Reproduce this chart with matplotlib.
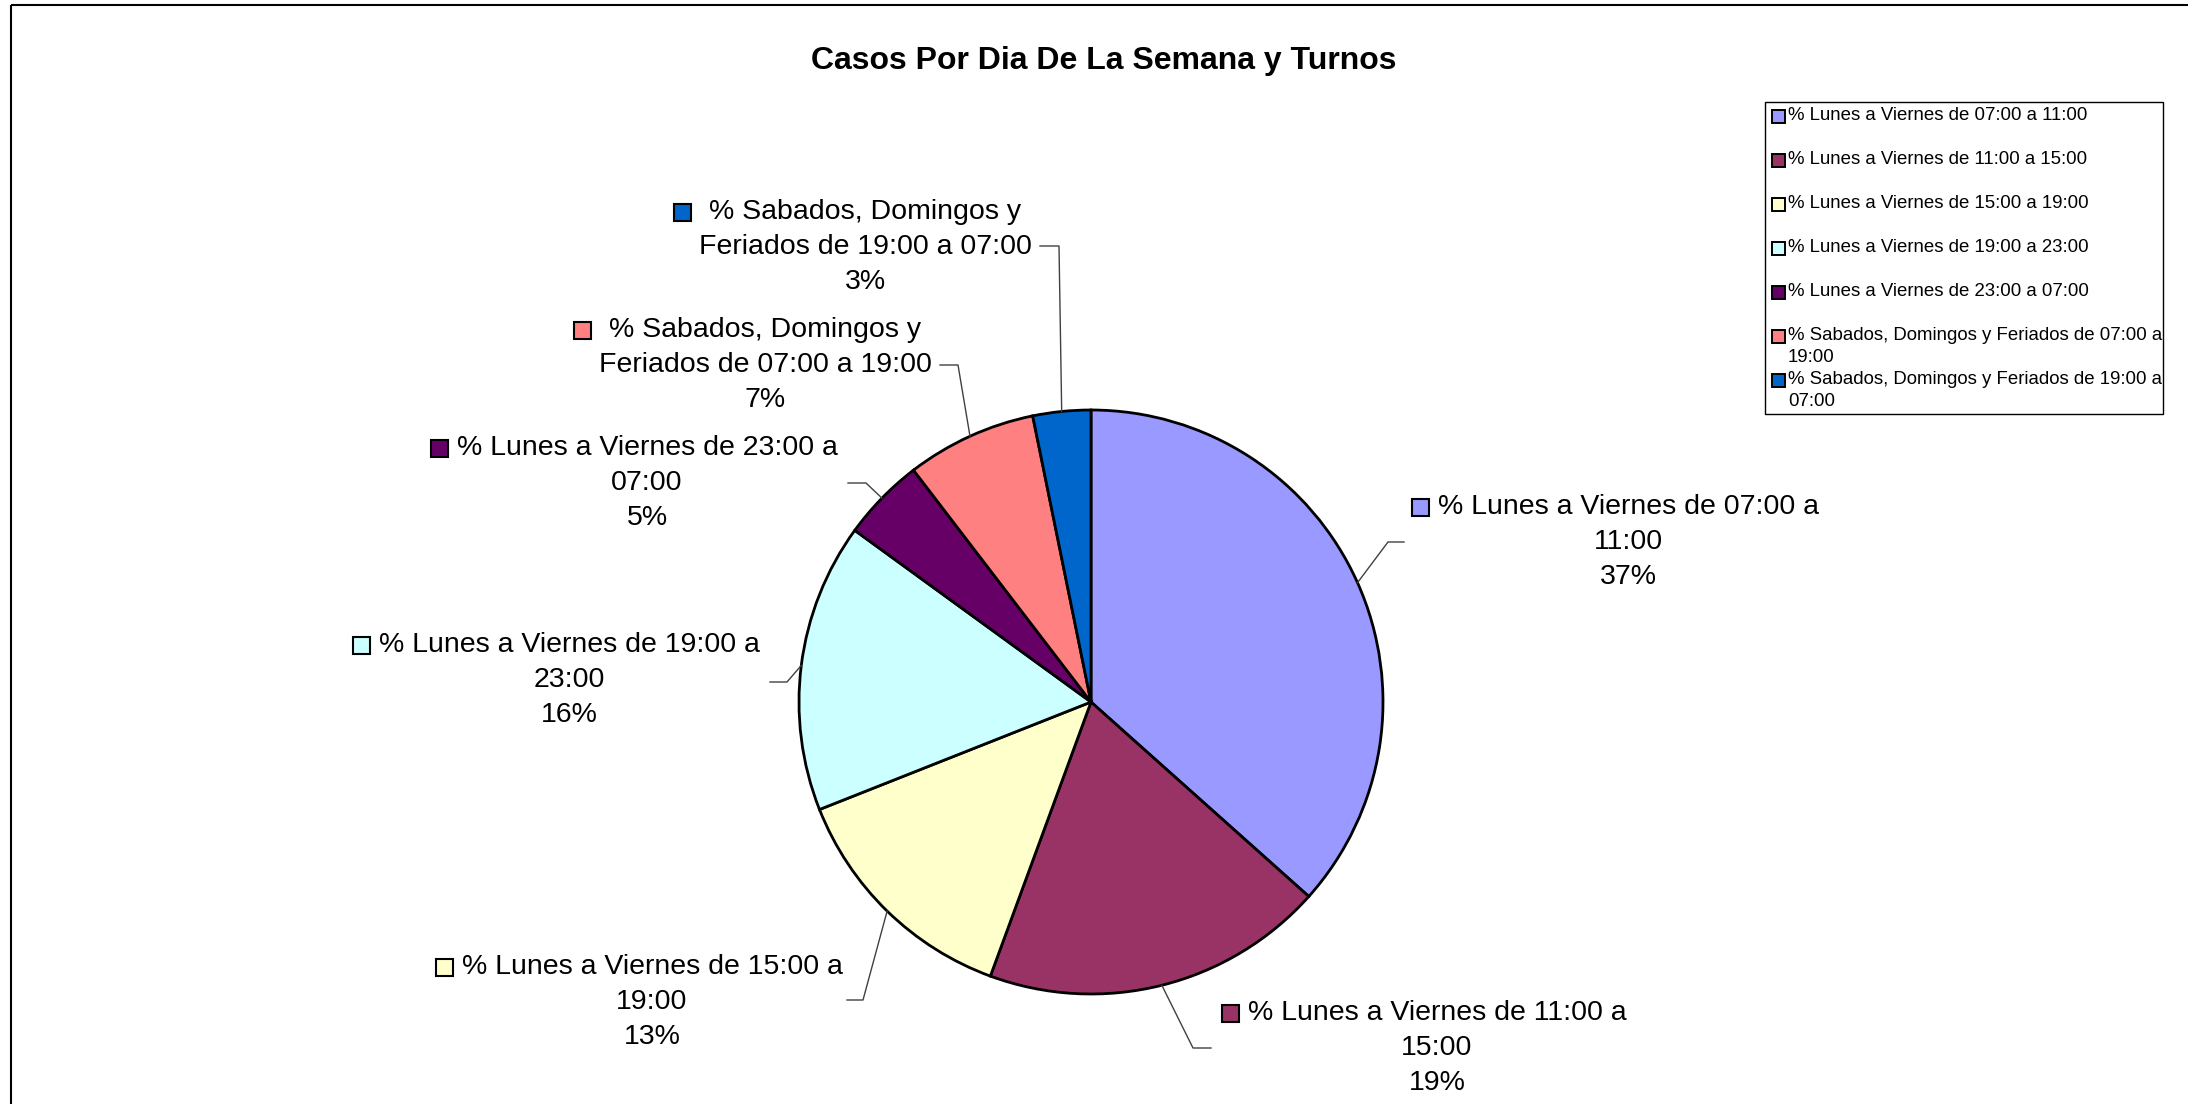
import math
import textwrap

import matplotlib
matplotlib.use("Agg")
import matplotlib.pyplot as plt
from matplotlib.patches import Rectangle

plt.rcParams["font.family"] = ["Liberation Sans", "DejaVu Sans"]

# datos
categorias = [
    "% Lunes a Viernes de 07:00 a 11:00",
    "% Lunes a Viernes de 11:00 a 15:00",
    "% Lunes a Viernes de 15:00 a 19:00",
    "% Lunes a Viernes de 19:00 a 23:00",
    "% Lunes a Viernes de 23:00 a 07:00",
    "% Sabados, Domingos y Feriados de 07:00 a 19:00",
    "% Sabados, Domingos y Feriados de 19:00 a 07:00",
]
porcentajes = [36.6, 19.0, 13.4, 16.0, 4.6, 7.2, 3.2]
colores = ["#9999FF", "#993366", "#FFFFCC", "#CCFFFF", "#660066", "#FF8080", "#0066CC"]
titulo = "Casos Por Dia De La Semana y Turnos"

# layout en pixeles (x, y desde arriba)
W, H = 2188, 1104
pie_cx, pie_cy, pie_r = 1091, 702, 292
# centro x de la etiqueta, y de la primera linea
etiqueta_pos = [(1628, 507), (1437, 1013), (652, 967), (569, 645),
                (647, 448), (765, 330), (865, 212)]
# codo de la linea guia y fin del tramo horizontal
guia_pos = [(1388, 542, 1404), (1193, 1048, 1211), (863, 1000, 847),
            (787, 682, 770), (866, 483, 848), (958, 365, 940), (1059, 246, 1040)]
separacion = [9, 9, 9, 9, 9, 18, 18]
interlineado = 35

fig = plt.figure(figsize=(W / 100, H / 100), dpi=100)
fig.patch.set_facecolor("white")

# ejes de la torta
m = 1.03
pie_ax = fig.add_axes([(pie_cx - pie_r * m) / W, (H - pie_cy - pie_r * m) / H,
                       2 * pie_r * m / W, 2 * pie_r * m / H])
wedges, _ = pie_ax.pie(porcentajes, colors=colores, startangle=90, counterclock=False,
                       radius=1, wedgeprops=dict(edgecolor="black", linewidth=2))
pie_ax.set_xlim(-m, m)
pie_ax.set_ylim(-m, m)
pie_ax.axis("off")

# capa en pixeles para textos y decoraciones
ov = fig.add_axes([0, 0, 1, 1])
ov.set_xlim(0, W)
ov.set_ylim(H, 0)
ov.axis("off")

# borde del area del grafico
ov.add_patch(Rectangle((11, 5), W + 20, H + 20, fill=False, edgecolor="black",
                       linewidth=1.5, clip_on=False))

ov.text(1104, 61, titulo, ha="center", va="center", fontsize=23.0, fontweight="bold")

for i, w in enumerate(wedges):
    ang = math.radians((w.theta1 + w.theta2) / 2)
    x0 = pie_cx + pie_r * math.cos(ang)
    y0 = pie_cy - pie_r * math.sin(ang)
    ex, ey, hx = guia_pos[i]
    ov.plot([x0, ex, hx], [y0, ey, ey], color="#404040", linewidth=1)

    lineas = textwrap.wrap(categorias[i], 28) + [f"{round(porcentajes[i])}%"]
    lx, ly = etiqueta_pos[i]
    for j, linea in enumerate(lineas):
        t = ov.text(lx, ly + j * interlineado, linea, ha="center", va="center",
                    fontsize=20.5)
        if j == 0:
            bb = t.get_window_extent()
            s = 17
            ov.add_patch(Rectangle((bb.x0 - separacion[i] - s, ly - s / 2), s, s,
                                   facecolor=colores[i], edgecolor="black",
                                   linewidth=1.5))

# leyenda
ov.add_patch(Rectangle((1765, 102), 2163 - 1765, 414 - 102, fill=False,
                       edgecolor="black", linewidth=1))
for i, cat in enumerate(categorias):
    y = 116 + 44 * i
    ov.add_patch(Rectangle((1772, y - 6.5), 13, 13, facecolor=colores[i],
                           edgecolor="black", linewidth=1.4))
    for j, linea in enumerate(textwrap.wrap(cat, 42)):
        ov.text(1788, y + 22 * j, linea, ha="left", va="center", fontsize=13.4)

fig.savefig("out.png", dpi=100)
